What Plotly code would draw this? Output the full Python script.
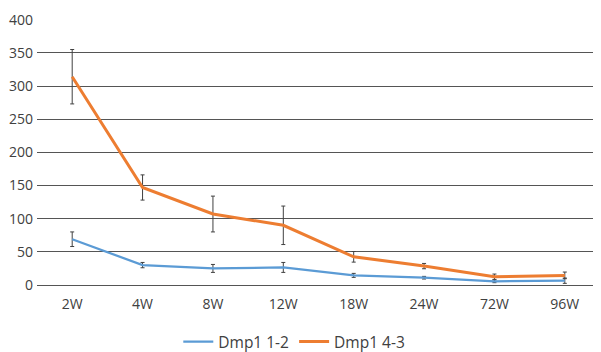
import plotly.graph_objects as go

categories = ["2W", "4W", "8W", "12W", "18W", "24W", "72W", "96W"]
dmp1_12 = [69, 30, 25, 26.5, 14.5, 11, 5.5, 6.5]
dmp1_12_err = [11, 4, 6, 7.5, 3, 2, 2, 4]
dmp1_43 = [314, 147, 107, 90, 42.5, 28.5, 12.5, 14.5]
dmp1_43_err = [41, 19, 27, 29, 8, 4, 4, 5]
yticks = [0, 50, 100, 150, 200, 250, 300, 350, 400]

fig = go.Figure()
for name, vals, err, color, w in [
    ("Dmp1 1-2", dmp1_12, dmp1_12_err, "#5B9BD5", 2.25),
    ("Dmp1 4-3", dmp1_43, dmp1_43_err, "#ED7D31", 3),
]:
    fig.add_trace(go.Scatter(
        x=categories, y=vals, name=name, mode="lines",
        line=dict(color=color, width=w),
        error_y=dict(type="data", array=err, visible=True, color="#404040",
                     thickness=1, width=2),
    ))

fig.update_layout(
    width=593, height=344,
    margin=dict(l=29, r=1, t=11, b=67, autoexpand=False),
    paper_bgcolor="white", plot_bgcolor="white",
    font=dict(family="Open Sans, Liberation Sans, sans-serif", size=14, color="#404040"),
    showlegend=True,
    legend=dict(orientation="h", x=0.457, xanchor="center", yref="container",
                y=0.029, yanchor="middle",
                font=dict(size=15.5, color="#404040"), itemwidth=30),
    xaxis=dict(type="category", showgrid=False, showline=False, ticks="",
               tickfont=dict(size=14), range=[-0.5, 7.5], ticklabelstandoff=9),
    yaxis=dict(range=[0, 401], tickvals=yticks, showgrid=True, gridcolor="#555555",
               gridwidth=1.3, zeroline=True, zerolinecolor="#555555", zerolinewidth=1.3,
               ticks="", tickfont=dict(size=14), ticklabelstandoff=3),
)

fig.write_html("out.html")
